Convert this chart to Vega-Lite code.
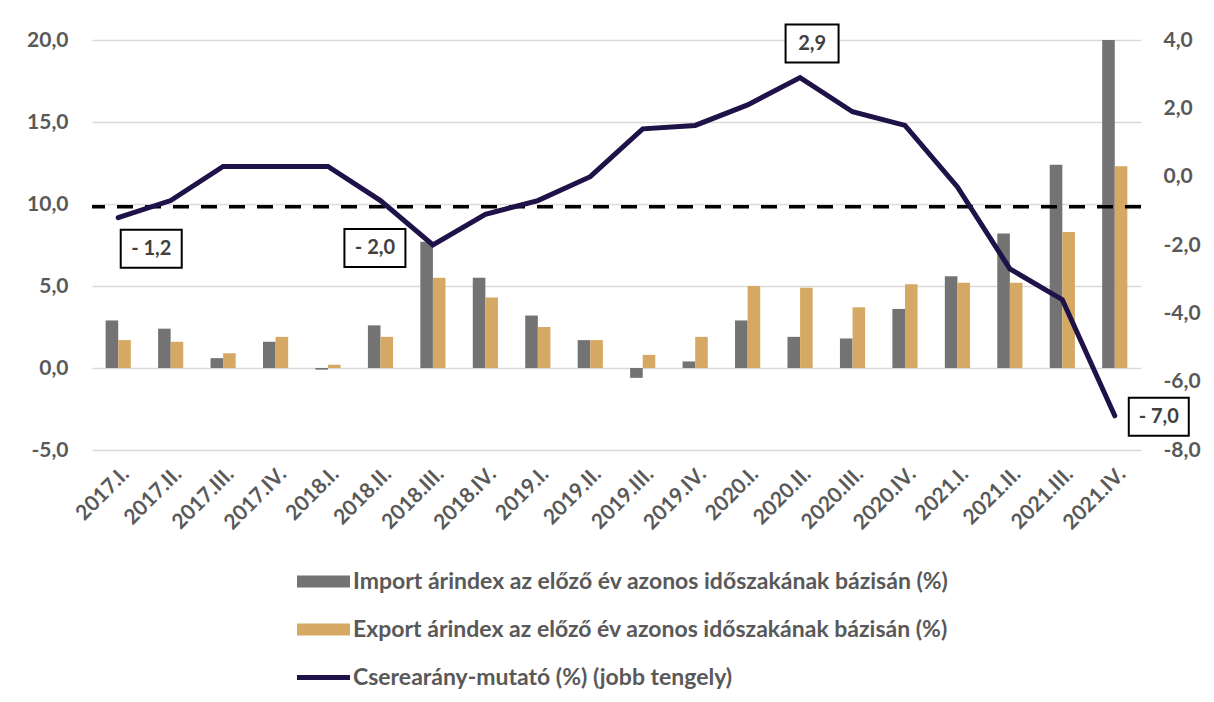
{
  "$schema": "https://vega.github.io/schema/vega-lite/v6.json",
  "width": 1049,
  "height": 410,
  "autosize": "none",
  "padding": {"left": 92, "top": 40, "right": 73, "bottom": 252},
  "background": "white",
  "config": {
    "locale": {"number": {"decimal": ",", "thousands": " ", "grouping": [3], "currency": ["", " Ft"], "minus": "-"}},
    "font": "Lato",
    "view": {"stroke": null},
    "axis": {"labelFont": "Lato", "labelFontSize": 21, "labelFontWeight": "bold", "labelColor": "#595959", "ticks": false, "domain": false, "title": null, "labelOverlap": false}
  },
  "datasets": {
    "bars": [
      {"period": "2017.I.", "series": "Import árindex az előző év azonos időszakának bázisán (%)", "value": 2.9},
      {"period": "2017.I.", "series": "Export árindex az előző év azonos időszakának bázisán (%)", "value": 1.7},
      {"period": "2017.II.", "series": "Import árindex az előző év azonos időszakának bázisán (%)", "value": 2.4},
      {"period": "2017.II.", "series": "Export árindex az előző év azonos időszakának bázisán (%)", "value": 1.6},
      {"period": "2017.III.", "series": "Import árindex az előző év azonos időszakának bázisán (%)", "value": 0.6},
      {"period": "2017.III.", "series": "Export árindex az előző év azonos időszakának bázisán (%)", "value": 0.9},
      {"period": "2017.IV.", "series": "Import árindex az előző év azonos időszakának bázisán (%)", "value": 1.6},
      {"period": "2017.IV.", "series": "Export árindex az előző év azonos időszakának bázisán (%)", "value": 1.9},
      {"period": "2018.I.", "series": "Import árindex az előző év azonos időszakának bázisán (%)", "value": -0.1},
      {"period": "2018.I.", "series": "Export árindex az előző év azonos időszakának bázisán (%)", "value": 0.2},
      {"period": "2018.II.", "series": "Import árindex az előző év azonos időszakának bázisán (%)", "value": 2.6},
      {"period": "2018.II.", "series": "Export árindex az előző év azonos időszakának bázisán (%)", "value": 1.9},
      {"period": "2018.III.", "series": "Import árindex az előző év azonos időszakának bázisán (%)", "value": 7.7},
      {"period": "2018.III.", "series": "Export árindex az előző év azonos időszakának bázisán (%)", "value": 5.5},
      {"period": "2018.IV.", "series": "Import árindex az előző év azonos időszakának bázisán (%)", "value": 5.5},
      {"period": "2018.IV.", "series": "Export árindex az előző év azonos időszakának bázisán (%)", "value": 4.3},
      {"period": "2019.I.", "series": "Import árindex az előző év azonos időszakának bázisán (%)", "value": 3.2},
      {"period": "2019.I.", "series": "Export árindex az előző év azonos időszakának bázisán (%)", "value": 2.5},
      {"period": "2019.II.", "series": "Import árindex az előző év azonos időszakának bázisán (%)", "value": 1.7},
      {"period": "2019.II.", "series": "Export árindex az előző év azonos időszakának bázisán (%)", "value": 1.7},
      {"period": "2019.III.", "series": "Import árindex az előző év azonos időszakának bázisán (%)", "value": -0.6},
      {"period": "2019.III.", "series": "Export árindex az előző év azonos időszakának bázisán (%)", "value": 0.8},
      {"period": "2019.IV.", "series": "Import árindex az előző év azonos időszakának bázisán (%)", "value": 0.4},
      {"period": "2019.IV.", "series": "Export árindex az előző év azonos időszakának bázisán (%)", "value": 1.9},
      {"period": "2020.I.", "series": "Import árindex az előző év azonos időszakának bázisán (%)", "value": 2.9},
      {"period": "2020.I.", "series": "Export árindex az előző év azonos időszakának bázisán (%)", "value": 5.0},
      {"period": "2020.II.", "series": "Import árindex az előző év azonos időszakának bázisán (%)", "value": 1.9},
      {"period": "2020.II.", "series": "Export árindex az előző év azonos időszakának bázisán (%)", "value": 4.9},
      {"period": "2020.III.", "series": "Import árindex az előző év azonos időszakának bázisán (%)", "value": 1.8},
      {"period": "2020.III.", "series": "Export árindex az előző év azonos időszakának bázisán (%)", "value": 3.7},
      {"period": "2020.IV.", "series": "Import árindex az előző év azonos időszakának bázisán (%)", "value": 3.6},
      {"period": "2020.IV.", "series": "Export árindex az előző év azonos időszakának bázisán (%)", "value": 5.1},
      {"period": "2021.I.", "series": "Import árindex az előző év azonos időszakának bázisán (%)", "value": 5.6},
      {"period": "2021.I.", "series": "Export árindex az előző év azonos időszakának bázisán (%)", "value": 5.2},
      {"period": "2021.II.", "series": "Import árindex az előző év azonos időszakának bázisán (%)", "value": 8.2},
      {"period": "2021.II.", "series": "Export árindex az előző év azonos időszakának bázisán (%)", "value": 5.2},
      {"period": "2021.III.", "series": "Import árindex az előző év azonos időszakának bázisán (%)", "value": 12.4},
      {"period": "2021.III.", "series": "Export árindex az előző év azonos időszakának bázisán (%)", "value": 8.3},
      {"period": "2021.IV.", "series": "Import árindex az előző év azonos időszakának bázisán (%)", "value": 20.0},
      {"period": "2021.IV.", "series": "Export árindex az előző év azonos időszakának bázisán (%)", "value": 12.3}
    ],
    "line": [
      {"period": "2017.I.", "value": -1.2, "label": "- 1,2"},
      {"period": "2017.II.", "value": -0.7},
      {"period": "2017.III.", "value": 0.3},
      {"period": "2017.IV.", "value": 0.3},
      {"period": "2018.I.", "value": 0.3},
      {"period": "2018.II.", "value": -0.7},
      {"period": "2018.III.", "value": -2.0, "label": "- 2,0"},
      {"period": "2018.IV.", "value": -1.1},
      {"period": "2019.I.", "value": -0.7},
      {"period": "2019.II.", "value": 0.0},
      {"period": "2019.III.", "value": 1.4},
      {"period": "2019.IV.", "value": 1.5},
      {"period": "2020.I.", "value": 2.1},
      {"period": "2020.II.", "value": 2.9, "label": "2,9"},
      {"period": "2020.III.", "value": 1.9},
      {"period": "2020.IV.", "value": 1.5},
      {"period": "2021.I.", "value": -0.3},
      {"period": "2021.II.", "value": -2.7},
      {"period": "2021.III.", "value": -3.6},
      {"period": "2021.IV.", "value": -7.0, "label": "- 7,0"}
    ]
  },
  "layer": [
    {
      "data": {"name": "bars"},
      "mark": {"type": "bar"},
      "encoding": {
        "x": {"field": "period", "type": "nominal", "sort": null,
              "scale": {"paddingInner": 0.52, "paddingOuter": 0.26},
              "axis": {"labelAngle": -45, "labelFontSize": 21, "labelPadding": 13, "grid": false}},
        "xOffset": {"field": "series", "type": "nominal",
                    "sort": ["Import árindex az előző év azonos időszakának bázisán (%)", "Export árindex az előző év azonos időszakának bázisán (%)"],
                    "scale": {"paddingInner": 0, "paddingOuter": 0}},
        "y": {"field": "value", "type": "quantitative",
              "scale": {"domain": [-5, 20], "nice": false, "zero": false},
              "axis": {"orient": "left", "values": [-5, 0, 5, 10, 15, 20], "format": ".1f", "labelPadding": 24, "grid": true, "gridColor": "#d9d9d9", "gridWidth": 1.5}},
        "color": {"field": "series", "type": "nominal",
                  "scale": {"domain": ["Import árindex az előző év azonos időszakának bázisán (%)", "Export árindex az előző év azonos időszakának bázisán (%)", "Cserearány-mutató (%) (jobb tengely)"],
                            "range": ["#737373", "#D5A964", "#1E1248"]},
                  "legend": {"orient": "none", "legendX": 205, "legendY": 515, "direction": "vertical", "title": null,
                             "labelFont": "Lato", "labelFontSize": 23, "labelFontWeight": "bold", "labelColor": "#595959",
                             "symbolSize": 2809, "symbolType": "M-1,-0.226H1V0.226H-1Z", "symbolStrokeWidth": 0,
                             "rowPadding": 9, "labelOffset": 3, "labelLimit": 1000,
                             "encode": {"symbols": {"update": {
                               "shape": {"signal": "datum.value === 'Cserearány-mutató (%) (jobb tengely)' ? 'M-1,-0.09H1V0.09H-1Z' : 'M-1,-0.226H1V0.226H-1Z'"},
                               "fill": {"scale": "color", "field": "value"},
                               "stroke": {"value": "transparent"},
                               "opacity": {"value": 1},
                               "fillOpacity": {"value": 1}}}}}}
      }
    },
    {
      "layer": [
        {
          "data": {"values": [{}]},
          "mark": {"type": "rule", "strokeDash": [16, 12], "strokeWidth": 3.5, "color": "#000000"},
          "encoding": {"y": {"datum": -0.88, "type": "quantitative"}}
        },
        {
          "data": {"name": "line"},
          "mark": {"type": "line", "strokeWidth": 5, "strokeCap": "round"},
          "encoding": {
            "x": {"field": "period", "type": "nominal", "sort": null},
            "y": {"field": "value", "type": "quantitative",
                  "scale": {"domain": [-8, 4], "nice": false, "zero": false},
                  "axis": {"orient": "right", "values": [-8, -6, -4, -2, 0, 2, 4], "format": ".1f", "labelPadding": 22, "grid": false}},
            "color": {"datum": "Cserearány-mutató (%) (jobb tengely)"}
          }
        },
        {
          "data": {"name": "line"},
          "transform": [{"filter": "datum.period === '2017.I.'"}],
          "mark": {"type": "point", "shape": "M-1,-0.623H1V0.623H-1Z", "size": 3721, "filled": true, "fill": "white", "stroke": "black", "strokeWidth": 2, "opacity": 1, "fillOpacity": 1, "strokeOpacity": 1, "xOffset": 33, "yOffset": 31},
          "encoding": {"x": {"field": "period", "type": "nominal", "sort": null}, "y": {"field": "value", "type": "quantitative"}}
        },
        {
          "data": {"name": "line"},
          "transform": [{"filter": "datum.period === '2017.I.'"}],
          "mark": {"type": "text", "font": "Lato", "fontSize": 20, "fontWeight": "bold", "color": "#404040", "dx": 33, "dy": 31, "align": "center", "baseline": "middle"},
          "encoding": {"x": {"field": "period", "type": "nominal", "sort": null}, "y": {"field": "value", "type": "quantitative"}, "text": {"field": "label"}}
        },
        {
          "data": {"name": "line"},
          "transform": [{"filter": "datum.period === '2018.III.'"}],
          "mark": {"type": "point", "shape": "M-1,-0.623H1V0.623H-1Z", "size": 3721, "filled": true, "fill": "white", "stroke": "black", "strokeWidth": 2, "opacity": 1, "fillOpacity": 1, "strokeOpacity": 1, "xOffset": -58, "yOffset": 3},
          "encoding": {"x": {"field": "period", "type": "nominal", "sort": null}, "y": {"field": "value", "type": "quantitative"}}
        },
        {
          "data": {"name": "line"},
          "transform": [{"filter": "datum.period === '2018.III.'"}],
          "mark": {"type": "text", "font": "Lato", "fontSize": 20, "fontWeight": "bold", "color": "#404040", "dx": -58, "dy": 3, "align": "center", "baseline": "middle"},
          "encoding": {"x": {"field": "period", "type": "nominal", "sort": null}, "y": {"field": "value", "type": "quantitative"}, "text": {"field": "label"}}
        },
        {
          "data": {"name": "line"},
          "transform": [{"filter": "datum.period === '2020.II.'"}],
          "mark": {"type": "point", "shape": "M-1,-0.717H1V0.717H-1Z", "size": 2809, "filled": true, "fill": "white", "stroke": "black", "strokeWidth": 2, "opacity": 1, "fillOpacity": 1, "strokeOpacity": 1, "xOffset": 12, "yOffset": -34},
          "encoding": {"x": {"field": "period", "type": "nominal", "sort": null}, "y": {"field": "value", "type": "quantitative"}}
        },
        {
          "data": {"name": "line"},
          "transform": [{"filter": "datum.period === '2020.II.'"}],
          "mark": {"type": "text", "font": "Lato", "fontSize": 20, "fontWeight": "bold", "color": "#404040", "dx": 12, "dy": -34, "align": "center", "baseline": "middle"},
          "encoding": {"x": {"field": "period", "type": "nominal", "sort": null}, "y": {"field": "value", "type": "quantitative"}, "text": {"field": "label"}}
        },
        {
          "data": {"name": "line"},
          "transform": [{"filter": "datum.period === '2021.IV.'"}],
          "mark": {"type": "point", "shape": "M-1,-0.633H1V0.633H-1Z", "size": 3600, "filled": true, "fill": "white", "stroke": "black", "strokeWidth": 2, "opacity": 1, "fillOpacity": 1, "strokeOpacity": 1, "xOffset": 44, "yOffset": 1},
          "encoding": {"x": {"field": "period", "type": "nominal", "sort": null}, "y": {"field": "value", "type": "quantitative"}}
        },
        {
          "data": {"name": "line"},
          "transform": [{"filter": "datum.period === '2021.IV.'"}],
          "mark": {"type": "text", "font": "Lato", "fontSize": 20, "fontWeight": "bold", "color": "#404040", "dx": 44, "dy": 1, "align": "center", "baseline": "middle"},
          "encoding": {"x": {"field": "period", "type": "nominal", "sort": null}, "y": {"field": "value", "type": "quantitative"}, "text": {"field": "label"}}
        }
      ]
    }
  ],
  "resolve": {"scale": {"y": "independent"}}
}
